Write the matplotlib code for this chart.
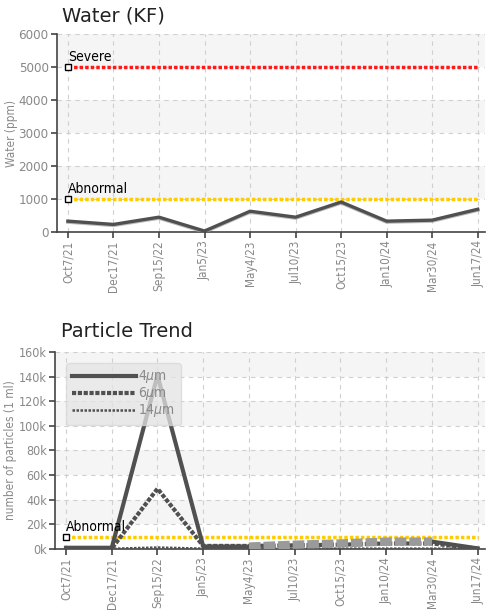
import numpy as np
import matplotlib
matplotlib.use("Agg")
import matplotlib.pyplot as plt

plt.rcParams['font.family'] = ['DejaVu Sans']
plt.rcParams['font.stretch'] = 'condensed'

dates = ["Oct7/21", "Dec17/21", "Sep15/22", "Jan5/23", "May4/23",
         "Jul10/23", "Oct15/23", "Jan10/24", "Mar30/24", "Jun17/24"]

water = [300, 200, 420, 0, 600, 420, 880, 300, 330, 660]
water_severe = 5000
water_abnormal = 1000

p4 = [1000, 1000, 141000, 2000, 2000, 3500, 4500, 6000, 6000, 500]
p6 = [500, 500, 49000, 2500, 2500, 3000, 3500, 4500, 4500, 300]
p14 = [200, 200, 1200, 300, 300, 300, 300, 300, 300, 100]
particle_abnormal = 10000

x = np.arange(len(dates))
dark = "#505050"
tick_gray = "#888888"


def style_axes(ax, ymax, step, fmt, ysize):
    ax.set_xlim(-0.24, 9.15)
    ax.set_ylim(0, ymax)
    ticks = np.arange(0, ymax + step, step)
    ax.set_yticks(ticks)
    ax.set_yticklabels([fmt(t) for t in ticks], color=tick_gray, fontsize=ysize,
                       fontstretch='condensed')
    ax.set_xticks(x)
    ax.set_xticklabels(dates, rotation=90, color=tick_gray, fontsize=8.5,
                       fontstretch='condensed')
    for s in ["top", "right"]:
        ax.spines[s].set_visible(False)
    for s in ["left", "bottom"]:
        ax.spines[s].set_color("#444444")
        ax.spines[s].set_linewidth(1.2)
    ax.tick_params(direction="out", length=4, color="#444444", width=1.2, pad=2)
    ax.grid(True, linestyle=(0, (4, 4)), color="#d0d0d0", linewidth=0.8)
    ax.set_axisbelow(True)
    # alternating bands
    for i, lo in enumerate(ticks[:-1]):
        if i % 2 == 1:
            ax.axhspan(lo, lo + step, color="#f5f5f5", zorder=0, lw=0)


def threshold(ax, val, color, label):
    ax.plot([x[0], x[-1]], [val, val], color=color, lw=2.5,
            linestyle=(0, (1, 0.6)), zorder=3)
    ax.plot(x[0], val, marker="s", ms=5, mfc="white", mec="black", mew=1, zorder=5)
    ax.annotate(label, (x[0], val), xytext=(0, 4), textcoords="offset points",
                fontsize=10, color="black", zorder=6, fontstretch='condensed')


fig = plt.figure(figsize=(4.87, 6.13), dpi=100)

# Water (KF)
ax1 = fig.add_axes([0.117, 0.6215, 0.878, 0.323])
style_axes(ax1, 6000, 1000, lambda v: f"{int(v)}", 9.5)
ax1.set_ylabel("Water (ppm)", color=tick_gray, fontsize=8.5)
ax1.yaxis.set_label_coords(-0.091, 0.5)
threshold(ax1, water_severe, "#ff1a1a", "Severe")
threshold(ax1, water_abnormal, "#ffcc00", "Abnormal")
ax1.plot(x, water, color="#a0a0a0", lw=2.5, zorder=3, alpha=0.7)
ax1.plot(x, np.array(water) + 30, color=dark, lw=2.4, zorder=4)
fig.text(62 / 487, 1 - 22 / 613, "Water (KF)", fontsize=14, color="#222222",
         fontstretch='normal')

# Particle Trend
ax2 = fig.add_axes([0.113, 0.1044, 0.882, 0.3214])
style_axes(ax2, 160000, 20000, lambda v: f"{int(v / 1000)}k", 9)
ax2.set_ylabel("number of particles (1 ml)", color=tick_gray, fontsize=8.5)
ax2.yaxis.set_label_coords(-0.088, 0.5)
threshold(ax2, particle_abnormal, "#ffcc00", "Abnormal")
l4, = ax2.plot(x[:5], p4[:5], color=dark, lw=3, zorder=4, label="4$\\mu$m")
ax2.plot(x[8:], p4[8:], color=dark, lw=3, zorder=4)
ax2.plot(x[4:9], p4[4:9], color="#9a9a9a", lw=6, linestyle=(0, (1.4, 0.35)), zorder=4)
l6, = ax2.plot(x, p6, color=dark, lw=3, linestyle=(0, (1, 0.4)), zorder=3,
               label="6$\\mu$m")
l14, = ax2.plot(x, p14, color=dark, lw=1.8, linestyle=(0, (1, 0.6)), zorder=3,
                label="14$\\mu$m")
leg = ax2.legend(handles=[l4, l6, l14], loc="upper left", bbox_to_anchor=(0.01, 0.98),
                 fontsize=10, frameon=True, fancybox=True, handlelength=4.6,
                 handletextpad=0.2, labelspacing=0.0, borderpad=0.4)
leg.get_frame().set_facecolor("#e4e4e4")
leg.get_frame().set_edgecolor("#d8d8d8")
leg.get_frame().set_alpha(0.75)
for t in leg.get_texts():
    t.set_color(tick_gray)
fig.text(61 / 487, 1 - 337 / 613, "Particle Trend", fontsize=14, color="#222222",
         fontstretch='normal')

fig.savefig("out.png", dpi=100)
